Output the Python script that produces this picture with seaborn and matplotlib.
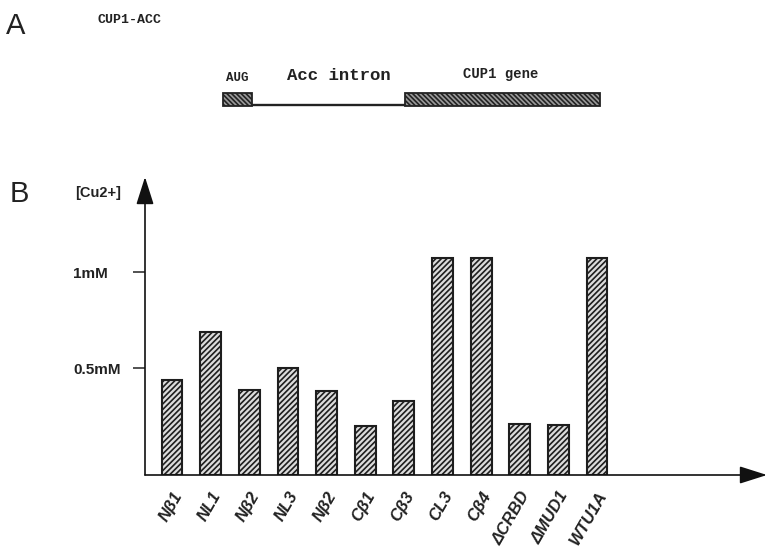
import matplotlib
matplotlib.use("Agg")
import matplotlib.pyplot as plt
import seaborn as sns
import pandas as pd

# panel B data (mM, read against the 0.5mM / 1mM ticks)
mutants = ["Nβ1", "NL1", "Nβ2", "NL3", "Nβ2", "Cβ1", "Cβ3", "CL3", "Cβ4", "ΔCRBD", "ΔMUD1", "WTU1A"]
cu_mM = [0.44, 0.69, 0.385, 0.50, 0.38, 0.20, 0.33, 1.075, 1.075, 0.21, 0.205, 1.075]
y_ticks = [0.5, 1.0]
y_tick_labels = ["0.5mM", "1mM"]

# panel A construct (relative lengths)
parts = ["AUG", "Acc intron", "CUP1 gene"]
part_start = [0, 29, 182]
part_end = [29, 182, 377]
part_is_exon = [True, False, True]

W, H = 767, 556
sns.set_style("white")
plt.rcParams["font.family"] = ["Liberation Sans", "DejaVu Sans"]
plt.rcParams["hatch.linewidth"] = 1.2

fig = plt.figure(figsize=(W / 100, H / 100), dpi=100)


def fx(x):
    return x / W


def fy(y):
    return 1 - y / H


# ---- panel A ----
fig.text(fx(6), fy(26), "A", fontsize=21, va="center", ha="left", color="#222")
fig.text(fx(97), fy(20), "CUP1-ACC", fontsize=9.5, family="Liberation Mono",
         fontweight="bold", va="center", ha="left", color="#222")

axA = fig.add_axes([0, fy(130), 1, 130 / H])
axA.set_xlim(-223, W - 223)
axA.set_ylim(130, 0)
axA.axis("off")
exon_df = pd.DataFrame({"part": parts, "start": part_start, "end": part_end, "exon": part_is_exon})
ex = exon_df[exon_df.exon]
axA.barh(y=[99.5] * len(ex), width=ex.end - ex.start, left=ex.start, height=13,
         color="#9a9a9a", edgecolor="#222", hatch="\\\\\\\\\\\\\\", linewidth=1.3)
intr = exon_df[~exon_df.exon]
for _, r in intr.iterrows():
    axA.plot([r.start, r.end], [105, 105], color="#222", lw=1.7, solid_capstyle="butt")
label_y = [78, 75, 74]
label_dx = [0, 10, -2]
label_size = [9, 12.5, 10]
for name, s, e, yy, dx, fs in zip(parts, part_start, part_end, label_y, label_dx, label_size):
    axA.text((s + e) / 2 + dx, yy, name, family="Liberation Mono", fontweight="bold",
             fontsize=fs, ha="center", va="center", color="#222")

# ---- panel B ----
fig.text(fx(10), fy(194), "B", fontsize=21, va="center", ha="left", color="#222")
fig.text(fx(75), fy(193), "[Cu2+]", fontsize=10.5, fontweight="bold", va="center", ha="left", color="#222")

base = -0.057
axB = fig.add_axes([fx(145), fy(475), (W - 145) / W, (475 - 177) / H])
df = pd.DataFrame({"pos": list(range(len(mutants))), "cu": [v - base for v in cu_mM]})
sns.barplot(data=df, x="pos", y="cu", ax=axB, color="#dcdcdc", saturation=1,
            edgecolor="#1e1e1e", linewidth=1.5, width=0.54, hatch="//////", bottom=base)
axB.set_xlim(-0.70, 15.4)
axB.set_ylim(base, 1.495)
for sp in axB.spines.values():
    sp.set_visible(False)
axB.annotate("", xy=(0, 1), xytext=(0, 0), xycoords="axes fraction",
             arrowprops=dict(arrowstyle="-|>,head_length=0.85,head_width=0.27",
                             mutation_scale=20, color="#111", lw=1.2, shrinkA=0, shrinkB=0))
axB.annotate("", xy=(1, 0), xytext=(0, 0), xycoords="axes fraction",
             arrowprops=dict(arrowstyle="-|>,head_length=0.85,head_width=0.27",
                             mutation_scale=20, color="#111", lw=1.2, shrinkA=0, shrinkB=0))
axB.set_yticks(y_ticks)
axB.set_yticklabels(y_tick_labels, fontsize=11, fontweight="bold", ha="left", color="#222")
axB.tick_params(axis="y", left=True, length=8.6, width=1.1, color="#222", pad=43)
axB.set_xticks(range(len(mutants)))
axB.set_xticklabels(mutants, rotation=60, ha="right", rotation_mode="anchor",
                    fontsize=12, fontweight="bold", fontstyle="italic", color="#222")
axB.tick_params(axis="x", bottom=False, length=0, pad=10)
axB.set_xlabel("")
axB.set_ylabel("")

fig.savefig("out.png", dpi=100)
